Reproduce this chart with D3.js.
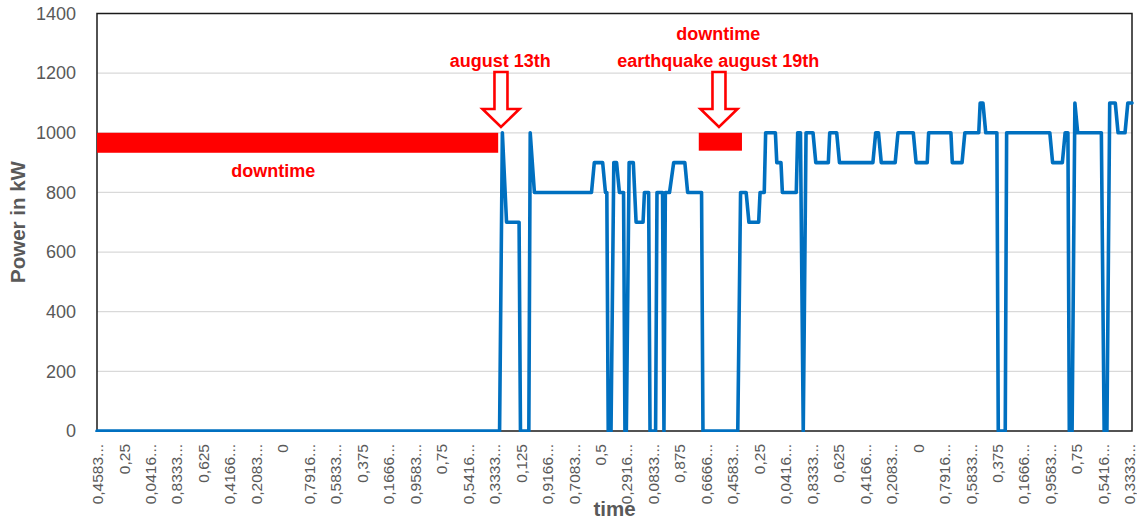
<!DOCTYPE html>
<html>
<head>
<meta charset="utf-8">
<script src="https://cdn.jsdelivr.net/npm/d3@7"></script>
<style>
  html, body { margin: 0; padding: 0; background: #ffffff; }
  svg { display: block; font-family: "Liberation Sans", Arial, sans-serif; }
</style>
</head>
<body>
<svg id="chart" width="1137" height="522"></svg>
<script>
// ---- data (hourly index from the start of the month, power in kW at line vertices) ----
const hourIndex = [0,289,291,294,303,304,310,311,314,355,357,363,365,366,367,369,371,373,375,378,
  379,380,382,385,387,392,393,396,397,401,402,406,407,408,411,414,422,424,434,435,
  460,462,466,468,475,476,479,480,487,488,491,492,502,503,505,507,509,514,516,525,
  526,531,533,557,559,561,563,573,575,586,588,596,597,613,614,621,623,633,634,636,
  638,646,647,652,653,684,686,693,695,697,698,700,702,704,721,723,725,727,731,733,
  738,740,743];
const powerKW = [0,0,1000,700,700,0,0,1000,800,800,900,900,800,800,0,0,900,900,800,800,
  0,0,900,900,700,700,800,800,0,0,800,800,0,800,800,900,900,800,800,0,
  0,800,800,700,700,800,800,1000,1000,900,900,800,800,1000,1000,0,1000,1000,900,900,
  1000,1000,900,900,1000,1000,900,900,1000,1000,900,900,1000,1000,900,900,1000,1000,1100,1100,
  1000,1000,0,0,1000,1000,900,900,1000,1000,0,0,1100,1000,1000,0,0,1100,1100,1000,
  1000,1100,1100];

const totalHours = 744;
const labelEvery = 19;
const tickLabels = ["0,4583...","0,25","0,0416...","0,8333...","0,625","0,4166...","0,2083...","0",
  "0,7916...","0,5833...","0,375","0,1666...","0,9583...","0,75","0,5416...","0,3333...",
  "0,125","0,9166...","0,7083...","0,5","0,2916...","0,0833...","0,875","0,6666...",
  "0,4583...","0,25","0,0416...","0,8333...","0,625","0,4166...","0,2083...","0",
  "0,7916...","0,5833...","0,375","0,1666...","0,9583...","0,75","0,5416...","0,3333..."];
const yTicks = [0,200,400,600,800,1000,1200,1400];

// annotations
const downtimeFrom = [0, 432];
const downtimeTo = [288, 463];
const downtimeBottom = [933, 940];
const arrowAt = [290, 446.5];

// ---- layout ----
const svg = d3.select("#chart");
const pL = 97, pR = 1132, pT = 13.5, pB = 431;
const x = d3.scaleLinear().domain([0, totalHours - 1]).range([pL, pR]);
const y = d3.scaleLinear().domain([0, 1400]).range([pB, pT]);
const grey = "#595959";
const red = "#FF0000";

svg.append("defs").append("clipPath").attr("id", "plotclip")
  .append("rect").attr("x", pL - 2).attr("y", pT).attr("width", pR - pL + 4).attr("height", pB - pT + 0.9);

// gridlines
svg.append("g").selectAll("line").data(yTicks.filter(d => d > 0 && d < 1400)).join("line")
  .attr("x1", pL).attr("x2", pR)
  .attr("y1", d => y(d)).attr("y2", d => y(d))
  .attr("stroke", "#d9d9d9").attr("stroke-width", 1.2);

// plot border
svg.append("rect").attr("x", pL).attr("y", pT)
  .attr("width", pR - pL).attr("height", pB - pT)
  .attr("fill", "none").attr("stroke", "#1a1a1a").attr("stroke-width", 1.5);

// y axis labels
const yAxis = d3.axisLeft(y).tickValues(yTicks).tickFormat(d3.format("d")).tickSize(0).tickPadding(21);
const gy = svg.append("g").attr("transform", `translate(${pL},0)`).call(yAxis);
gy.select(".domain").remove();
gy.selectAll("text").attr("fill", grey).style("font-size", "18px")
  .style("font-family", "'Liberation Sans', Arial, sans-serif");

// x axis labels
const tickPos = tickLabels.map((_, i) => i * labelEvery);
const xAxis = d3.axisBottom(x).tickValues(tickPos).tickFormat((d, i) => tickLabels[i]).tickSize(0);
const gx = svg.append("g").attr("transform", `translate(0,${pB})`).call(xAxis);
gx.select(".domain").remove();
gx.selectAll("text")
  .attr("fill", grey).style("font-size", "15.5px")
  .style("font-family", "'Liberation Sans', Arial, sans-serif")
  .attr("text-anchor", "end")
  .attr("transform", "rotate(-90)")
  .attr("x", -13).attr("y", 0).attr("dy", "0.36em");

// axis titles
svg.append("text").attr("transform", `translate(18,222) rotate(-90)`)
  .attr("text-anchor", "middle").attr("dy", "0.35em")
  .attr("fill", grey).style("font-size", "20.5px").style("font-weight", "bold")
  .text("Power in kW");
svg.append("text").attr("x", (pL + pR) / 2).attr("y", 516)
  .attr("text-anchor", "middle")
  .attr("fill", grey).style("font-size", "20.5px").style("font-weight", "bold")
  .text("time");

// downtime bars
svg.append("g").selectAll("rect").data(downtimeFrom).join("rect")
  .attr("x", d => x(d))
  .attr("width", (d, i) => x(downtimeTo[i]) - x(d))
  .attr("y", y(1000))
  .attr("height", (d, i) => y(downtimeBottom[i]) - y(1000))
  .attr("fill", red);

// line
const pts = hourIndex.map((h, i) => [h, powerKW[i]]);
const line = d3.line().x(d => x(d[0])).y(d => y(d[1]));
svg.append("path").datum(pts).attr("d", line)
  .attr("clip-path", "url(#plotclip)")
  .attr("fill", "none").attr("stroke", "#0070C0")
  .attr("stroke-width", 3.6).attr("stroke-linejoin", "round").attr("stroke-linecap", "round");

// arrows
const arrowTop = 72, headBase = 109, tip = 127, shaftHW = 6.5, headHW = 18.5;
svg.append("g").selectAll("path").data(arrowAt).join("path")
  .attr("d", d => {
    const cx = x(d);
    return `M${cx - shaftHW},${arrowTop} L${cx + shaftHW},${arrowTop} L${cx + shaftHW},${headBase} ` +
      `L${cx + headHW},${headBase} L${cx},${tip} L${cx - headHW},${headBase} L${cx - shaftHW},${headBase} Z`;
  })
  .attr("fill", "#ffffff").attr("stroke", red).attr("stroke-width", 2.6).attr("stroke-linejoin", "miter");

// annotation texts
const ann = [
  { h: 289.5, yy: 66.5, t: "august 13th" },
  { h: 446, yy: 40, t: "downtime" },
  { h: 446, yy: 66.5, t: "earthquake august 19th" },
  { h: 126.5, yy: 177, t: "downtime" }
];
svg.append("g").selectAll("text").data(ann).join("text")
  .attr("x", d => x(d.h)).attr("y", d => d.yy)
  .attr("text-anchor", "middle")
  .attr("fill", red).style("font-size", "18px").style("font-weight", "bold")
  .text(d => d.t);
</script>
</body>
</html>
